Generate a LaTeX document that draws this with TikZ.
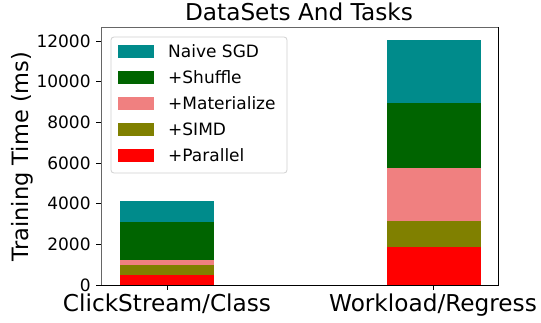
\documentclass[tikz,border=0pt]{standalone}
\usepackage{fontspec}
\setmainfont{DejaVu Sans}
\definecolor{cNaive}{HTML}{008B8B}
\definecolor{cShuffle}{HTML}{006400}
\definecolor{cMat}{HTML}{F08080}
\definecolor{cSimd}{HTML}{808000}
\definecolor{cPar}{HTML}{FF0000}
\begin{document}
\begin{tikzpicture}[x=1pt,y=1pt,
  spine/.style={line width=1pt,line cap=rect},
  tickmark/.style={line width=0.8pt},
  ticklabel/.style={font=\fontsize{17}{20}\selectfont,inner sep=0pt},
  catlabel/.style={font=\fontsize{23.2}{27}\selectfont,inner sep=0pt,anchor=base},
  axlabel/.style={font=\fontsize{22.5}{26}\selectfont,inner sep=0pt,anchor=base},
  legtext/.style={font=\fontsize{17}{20}\selectfont,inner sep=0pt,anchor=base west},
  swatch/.style={minimum width=36pt,minimum height=13pt,inner sep=0pt,draw=none}]
\useasboundingbox (0,0) rectangle (541,322);
\fill[white] (0,0) rectangle (541,322);

% plot area corners
\coordinate (ll) at (101,37);
\coordinate (ur) at (498,294);

% bars: each series is drawn from zero, largest first
\begin{scope}[shift={(0,37)},y=0.0203333pt]
  \fill[cNaive]   (120,0) rectangle (214,4131);
  \fill[cShuffle] (120,0) rectangle (214,3098);
  \fill[cMat]     (120,0) rectangle (214,1230);
  \fill[cSimd]    (120,0) rectangle (214,984);
  \fill[cPar]     (120,0) rectangle (214,492);

  \fill[cNaive]   (386.5,0) rectangle (480.5,12049);
  \fill[cShuffle] (386.5,0) rectangle (480.5,8951);
  \fill[cMat]     (386.5,0) rectangle (480.5,5769);
  \fill[cSimd]    (386.5,0) rectangle (480.5,3148);
  \fill[cPar]     (386.5,0) rectangle (480.5,1869);

  % y ticks and labels
  \foreach \v in {0,2000,4000,6000,8000,10000,12000}{
    \coordinate (yt\v) at (101,\v);
    \draw[tickmark] (yt\v) -- ++(-5pt,0) node[ticklabel,anchor=east,xshift=-5pt] (yl\v) {\v};
  }
\end{scope}

% frame
\draw[spine,black!60] (ur |- ll) -- (ll) -- (ll |- ur) -- (ur);
\draw[spine] (ur) -- (ur |- ll) -- (ll);

% x ticks and category labels
\coordinate (xt1) at (167,37);
\coordinate (xt2) at (433.5,37);
\draw[tickmark] (xt1) -- ++(0,-5);
\draw[tickmark] (xt2) -- ++(0,-5);
\node[catlabel] (cat1) at (167,10.3) {ClickStream/Class};
\node[catlabel] (cat2) at (433,10.3) {Workload/Regress};

% axis title and figure title
\node[axlabel,rotate=90] (ylab) at (28.6,165.5) {Training Time (ms)};
\node[catlabel] (title) at (299,301.3) {DataSets And Tasks};

% legend
\draw[draw=black!18,fill=white,rounded corners=3pt,line width=0.8pt] (111,285) rectangle (287,149);
\foreach \c/\t [count=\k from 0] in {cNaive/Naive SGD,cShuffle/+Shuffle,cMat/+Materialize,cSimd/+SIMD,cPar/+Parallel}{
  \node[swatch,fill=\c] (sw\k) at (136,270.5-26*\k) {};
  \node[legtext] (lt\k) at (168,264.5-26*\k) {\t};
}
\end{tikzpicture}
\end{document}
